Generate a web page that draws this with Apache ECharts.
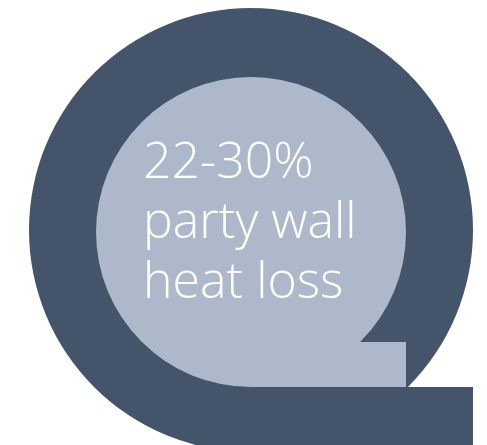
<!DOCTYPE html>
<html>
<head>
<meta charset="utf-8">
<script src="https://cdn.jsdelivr.net/npm/echarts@6/dist/echarts.min.js"></script>
<style>
  html, body { margin: 0; padding: 0; background: #fff; }
  #main { width: 487px; height: 445px; }
</style>
</head>
<body>
<div id="main"></div>
<script>
// shapes in plot units: circles [cx, cy, r], tabs [x0, y0, x1, y1]
const outerCircle = [[251, 230, 222]];
const outerTab = [[251, 387, 473, 445]];
const innerCircle = [[251, 232, 155]];
const innerTab = [[251, 342, 406, 387]];
const labelLines = ["22-30%", "party wall", "heat loss"];

const darkColor = "#44546a";
const lightColor = "#adb9ca";

function circleItem(color) {
  return function (params, api) {
    const c = api.coord([api.value(0), api.value(1)]);
    const r = api.size([api.value(2), 0])[0];
    return {
      type: "circle",
      shape: { cx: c[0], cy: c[1], r: r },
      style: { fill: color },
    };
  };
}

function rectItem(color) {
  return function (params, api) {
    const p0 = api.coord([api.value(0), api.value(1)]);
    const p1 = api.coord([api.value(2), api.value(3)]);
    return {
      type: "rect",
      shape: {
        x: Math.min(p0[0], p1[0]),
        y: Math.min(p0[1], p1[1]),
        width: Math.abs(p1[0] - p0[0]),
        height: Math.abs(p1[1] - p0[1]),
      },
      style: { fill: color },
    };
  };
}

const chart = echarts.init(document.getElementById("main"));
chart.setOption({
  animation: false,
  title: {
    text: labelLines.join("\n"),
    left: 138,
    top: 129,
    textStyle: {
      color: "#ffffff",
      fontFamily: "Open Sans",
      fontWeight: 300,
      fontSize: 50,
      lineHeight: 60,
    },
  },
  grid: { left: 0, right: 0, top: 0, bottom: 0 },
  xAxis: { type: "value", min: 0, max: 487, show: false },
  yAxis: { type: "value", min: 0, max: 445, inverse: true, show: false },
  series: [
    { type: "custom", data: outerCircle, renderItem: circleItem(darkColor), clip: true },
    { type: "custom", data: outerTab, renderItem: rectItem(darkColor), clip: true },
    { type: "custom", data: innerCircle, renderItem: circleItem(lightColor), clip: true },
    { type: "custom", data: innerTab, renderItem: rectItem(lightColor), clip: true },
  ],
});
</script>
</body>
</html>
